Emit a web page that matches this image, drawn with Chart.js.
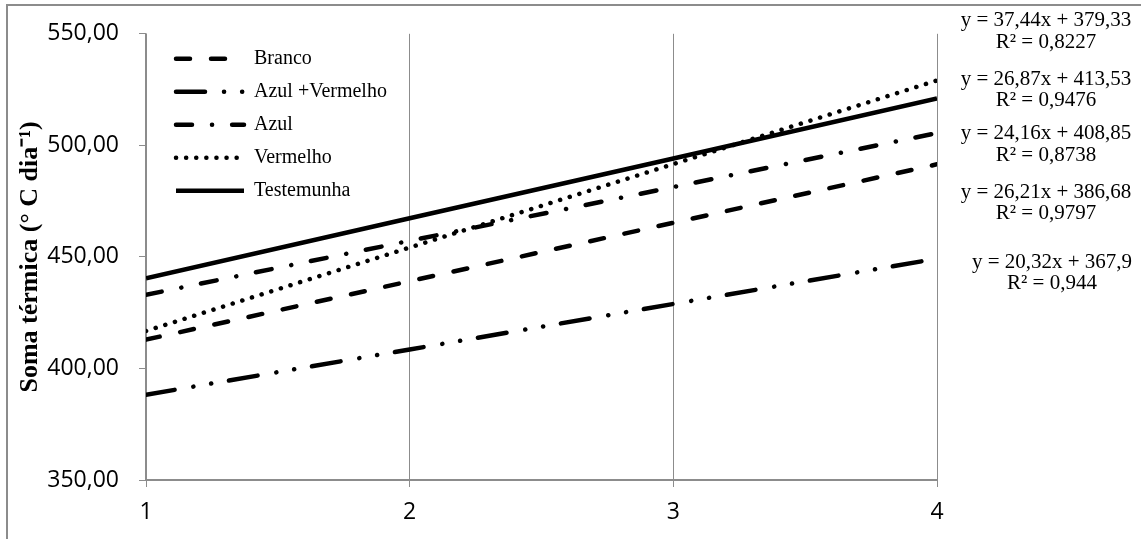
<!DOCTYPE html>
<html>
<head>
<meta charset="utf-8">
<script src="https://cdn.jsdelivr.net/npm/chart.js@4.4.1/dist/chart.umd.min.js"></script>
<style>
  html, body { margin: 0; padding: 0; background: #fff; }
  canvas { display: block; }
</style>
</head>
<body>
<canvas id="myChart" width="1141" height="539"></canvas>
<script>
// x positions (1..4) and the five trend lines
var xValues = [1, 2, 3, 4];
var seriesNames = ["Branco", "Azul +Vermelho", "Azul", "Vermelho", "Testemunha"];
var branco = [412.9, 439.1, 465.3, 491.5];
var azulVermelho = [388.2, 408.5, 428.9, 449.2];
var azul = [433.0, 457.2, 481.3, 505.5];
var vermelho = [416.8, 454.2, 491.6, 529.1];
var testemunha = [440.4, 467.3, 494.1, 521.0];
var yTicks = [350, 400, 450, 500, 550];

// trendline labels on the right
var equations = ["y = 37,44x + 379,33", "y = 26,87x + 413,53", "y = 24,16x + 408,85", "y = 26,21x + 386,68", "y = 20,32x + 367,9"];
var r2Values = ["R² = 0,8227", "R² = 0,9476", "R² = 0,8738", "R² = 0,9797", "R² = 0,944"];

var serif = "'Liberation Serif', 'Times New Roman', serif";
var gridGray = "#8c8c8c";

Chart.defaults.font.family = "'Open Sans', sans-serif";
Chart.defaults.color = "#000";

function points(vals) {
  return vals.map(function (v, i) { return { x: xValues[i], y: v }; });
}

function lineSet(name, vals, dash, cap) {
  return {
    label: name,
    data: points(vals),
    borderColor: "#000",
    backgroundColor: "#000",
    borderWidth: 4.5,
    borderDash: dash,
    borderCapStyle: cap,
    pointRadius: 0,
    fill: false,
    tension: 0
  };
}

// white page + the grey frame of the original figure
var framePlugin = {
  id: "frame",
  beforeDraw: function (chart) {
    var c = chart.ctx;
    c.save();
    c.fillStyle = "#fff";
    c.fillRect(0, 0, chart.width, chart.height);
    c.strokeStyle = "#8c8c8c";
    c.lineWidth = 2;
    c.beginPath();
    c.moveTo(7, chart.height);
    c.lineTo(7, 5);
    c.lineTo(chart.width, 5);
    c.stroke();
    c.restore();
  }
};

// put the legend box in the upper left corner of the plot
var legendPlace = {
  id: "legendPlace",
  afterLayout: function (chart) {
    var a = chart.chartArea, lg = chart.legend;
    lg.left = a.left + 17;
    lg.right = a.right;
    lg.top = a.top + 2;
    lg.bottom = a.bottom;
  }
};

var eqLayout = [[1046, 20, 42], [1046, 79, 100], [1046, 133, 155], [1046, 192, 213], [1052, 262, 283]];
var eqPlugin = {
  id: "equations",
  afterDraw: function (chart) {
    var c = chart.ctx;
    c.save();
    c.fillStyle = "#000";
    c.font = "21px " + serif;
    c.textAlign = "center";
    c.textBaseline = "middle";
    for (var i = 0; i < equations.length; i++) {
      c.fillText(equations[i], eqLayout[i][0], eqLayout[i][1]);
      c.fillText(r2Values[i], eqLayout[i][0], eqLayout[i][2]);
    }
    c.restore();
  }
};

var ctx = document.getElementById("myChart").getContext("2d");
var myChart = new Chart(ctx, {
  type: "line",
  data: {
    datasets: [
      lineSet(seriesNames[0], branco, [14, 21], "round"),
      lineSet(seriesNames[1], azulVermelho, [29, 19, 0.1, 18, 0.1, 18], "round"),
      lineSet(seriesNames[2], azul, [16, 20, 0.1, 20], "round"),
      lineSet(seriesNames[3], vermelho, [0.1, 10], "round"),
      lineSet(seriesNames[4], testemunha, [], "butt")
    ]
  },
  options: {
    responsive: false,
    animation: false,
    layout: { padding: { left: 0, top: 33, right: 204, bottom: 0 } },
    plugins: {
      tooltip: { enabled: false },
      legend: {
        position: "chartArea",
        align: "start",
        labels: {
          usePointStyle: true,
          pointStyle: "line",
          pointStyleWidth: 68,
          boxHeight: 20,
          padding: 13,
          color: "#000",
          font: { family: serif, size: 20 },
          // legend samples keep each dataset's dash pattern
          generateLabels: function (chart) {
            return chart.data.datasets.map(function (ds, i) {
              return {
                text: ds.label,
                datasetIndex: i,
                hidden: false,
                fontColor: "#000",
                fillStyle: "#000",
                strokeStyle: "#000",
                lineWidth: ds.borderWidth,
                lineDash: ds.borderDash,
                lineCap: ds.borderCapStyle,
                pointStyle: "line"
              };
            });
          }
        }
      }
    },
    scales: {
      x: {
        type: "linear",
        min: 1,
        max: 4,
        ticks: {
          stepSize: 1,
          padding: 12,
          color: "#000",
          font: { size: 23 },
          callback: function (v) { return xValues.indexOf(v) >= 0 ? String(v) : ""; }
        },
        grid: { color: gridGray, lineWidth: 1, tickLength: 7 },
        border: { color: gridGray, width: 2 },
        afterFit: function (s) { s.height = 59; }
      },
      y: {
        min: yTicks[0],
        max: yTicks[yTicks.length - 1],
        ticks: {
          stepSize: 50,
          padding: 20,
          color: "#000",
          font: { size: 23 },
          callback: function (v) { return v.toFixed(2).replace(".", ","); }
        },
        grid: { drawOnChartArea: false, color: gridGray, tickLength: 7 },
        border: { color: gridGray, width: 1.5 },
        title: {
          display: true,
          text: "Soma térmica (° C dia⁻¹)",
          color: "#000",
          font: { family: serif, size: 26, weight: "bold" },
          padding: { top: 15, bottom: 0 }
        },
        afterFit: function (s) { s.width = 146; }
      }
    }
  },
  plugins: [framePlugin, legendPlace, eqPlugin]
});
</script>
</body>
</html>
